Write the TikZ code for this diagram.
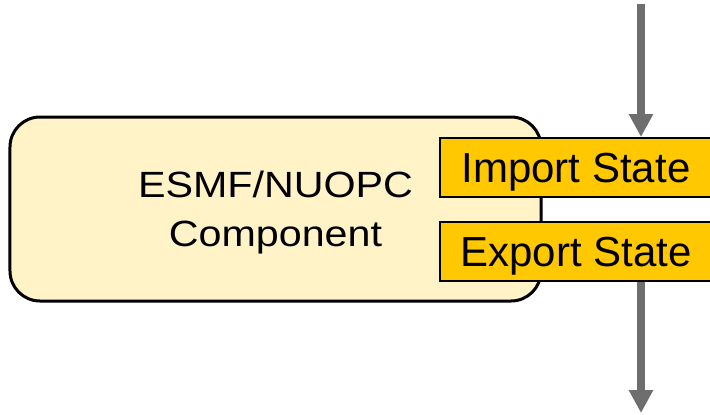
\documentclass[tikz,border=0pt]{standalone}
\usepackage{fontspec}
\setmainfont{Liberation Sans}
\usetikzlibrary{arrows.meta}
\definecolor{compfill}{RGB}{255,243,199}
\definecolor{stategold}{RGB}{255,200,0}
\definecolor{arrowgray}{RGB}{110,110,110}
\tikzset{
  compbox/.style={draw=black, line width=3bp, fill=compfill, rounded corners=30bp,
    minimum width=531bp, minimum height=184bp, inner sep=0pt, align=center,
    font=\fontsize{36.5bp}{49bp}\selectfont, text height=75bp, text depth=0bp},
  statebox/.style={draw=black, line width=2bp, fill=stategold, inner sep=0pt,
    minimum width=272bp, minimum height=59bp, font=\fontsize{42bp}{50bp}\selectfont,
    text height=30bp, text depth=0bp},
  flowarrow/.style={draw=arrowgray, line width=8.5bp,
    -{Triangle[width=23bp,length=23bp]}}
}
\begin{document}
\begin{tikzpicture}[x=1bp,y=-1bp]
\useasboundingbox (0,0) rectangle (710,414);
\node[compbox] (comp) at (275.5,209) {\scalebox{1.13}[1]{ESMF/NUOPC}\\\scalebox{1.13}[1]{Component}};
\node[statebox] (import) at (576,167.5) {Import State};
\node[statebox] (export) at (576,251) {Export State};
\coordinate (intop) at (641,4);
\coordinate (outbot) at (641,413);
\draw[flowarrow] (intop) -- (intop |- import.north);
\draw[flowarrow] (export.south -| outbot) -- (outbot);
\end{tikzpicture}
\end{document}
